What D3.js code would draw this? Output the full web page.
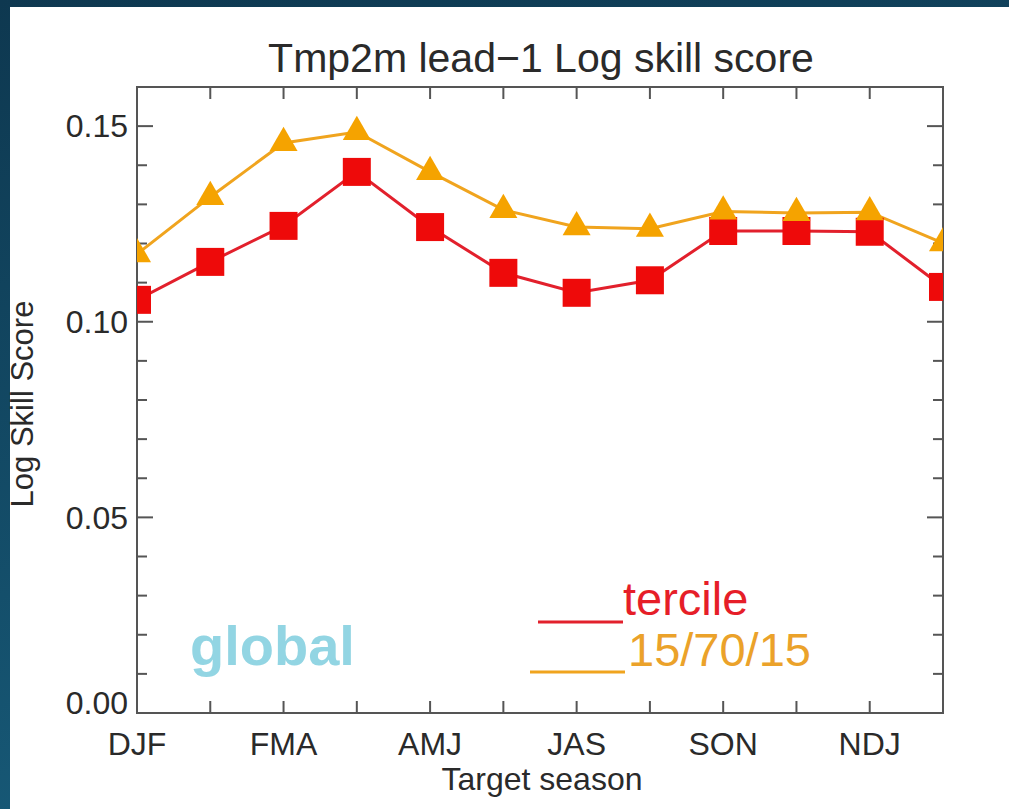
<!DOCTYPE html>
<html>
<head>
<meta charset="utf-8">
<script src="https://cdn.jsdelivr.net/npm/d3@7"></script>
<style>
  body { margin: 0; overflow: hidden; }
  text { font-family: "Liberation Sans", Arial, sans-serif; }
</style>
</head>
<body>
<script>
  // 12 overlapping 3-month target seasons; every other one is labelled
  var seasonIndex = [0, 1, 2, 3, 4, 5, 6, 7, 8, 9, 10, 11];
  var seasonLabels = ["DJF", "FMA", "AMJ", "JAS", "SON", "NDJ"];
  var tercile = [0.1056, 0.1153, 0.1245, 0.1383, 0.1242, 0.1125, 0.1074, 0.1106, 0.1232, 0.1232, 0.1230, 0.1089];
  var pct157015 = [0.1173, 0.1319, 0.1457, 0.1485, 0.1383, 0.1286, 0.1242, 0.1238, 0.1282, 0.1278, 0.1280, 0.1201];
  var yTicks = [0.00, 0.05, 0.10, 0.15];

  (function () {
    "use strict";
    var W = 1009, H = 809;
    var pl = 137, pr = 943, pt = 87, pb = 713;
    var red = "#ee0a0a", redLine = "#e2202c", orange = "#f5a300", orangeLine = "#f0a41e";
    var axisCol = "#555", textCol = "#2a2a2a";

    var svg = d3.select("body").append("svg")
        .attr("width", W)
        .attr("height", H);

    var defs = svg.append("defs");
    var grad = defs.append("linearGradient")
        .attr("id", "bg")
        .attr("x1", "0").attr("y1", "0").attr("x2", "0.3").attr("y2", "1");
    grad.append("stop").attr("offset", "0").attr("stop-color", "#0e3850");
    grad.append("stop").attr("offset", "1").attr("stop-color", "#175a78");
    defs.append("clipPath").attr("id", "plot")
      .append("rect")
        .attr("x", pl).attr("y", pt)
        .attr("width", pr - pl).attr("height", pb - pt);

    svg.append("rect").attr("width", W).attr("height", H).attr("fill", "url(#bg)");
    svg.append("rect").attr("x", 10).attr("y", 7)
        .attr("width", W - 10).attr("height", H - 7).attr("fill", "#fff");

    var x = d3.scaleLinear().domain([0, seasonIndex.length - 1]).range([pl, pr]);
    var y = d3.scaleLinear().domain([0, 0.16]).range([pb, pt]);
    var minor = d3.range(0, 17).map(d => d / 100);

    // frame
    svg.append("rect")
        .attr("x", pl).attr("y", pt)
        .attr("width", pr - pl).attr("height", pb - pt)
        .attr("fill", "none").attr("stroke", axisCol).attr("stroke-width", 2);

    // y ticks on both sides, pointing in
    var yt = svg.append("g").attr("stroke", axisCol).attr("stroke-width", 2);
    minor.forEach(function (v, k) {
      var len = k % 5 === 0 ? 16 : 10;
      yt.append("line").attr("x1", pl).attr("x2", pl + len).attr("y1", y(v)).attr("y2", y(v));
      yt.append("line").attr("x1", pr).attr("x2", pr - len).attr("y1", y(v)).attr("y2", y(v));
    });

    // x ticks top and bottom, pointing in
    var xt = svg.append("g").attr("stroke", axisCol).attr("stroke-width", 2);
    seasonIndex.forEach(function (i) {
      xt.append("line").attr("x1", x(i)).attr("x2", x(i)).attr("y1", pb).attr("y2", pb - 12);
      xt.append("line").attr("x1", x(i)).attr("x2", x(i)).attr("y1", pt).attr("y2", pt + 12);
    });

    svg.append("g").selectAll("text")
      .data(yTicks)
      .enter().append("text")
        .attr("x", pl - 9)
        .attr("y", d => y(d) + (d === 0 ? -10 : 0))
        .attr("dy", "0.35em")
        .attr("text-anchor", "end")
        .attr("font-size", 32)
        .attr("fill", textCol)
        .text(d => d.toFixed(2));

    svg.append("g").selectAll("text")
      .data(seasonLabels)
      .enter().append("text")
        .attr("x", (d, k) => x(k * 2))
        .attr("y", 755)
        .attr("text-anchor", "middle")
        .attr("font-size", 32)
        .attr("fill", textCol)
        .text(d => d);

    svg.append("text")
        .attr("x", 541).attr("y", 72)
        .attr("text-anchor", "middle")
        .attr("font-size", 41)
        .attr("fill", textCol)
        .text("Tmp2m lead\u22121 Log skill score");

    svg.append("text")
        .attr("x", 542).attr("y", 790)
        .attr("text-anchor", "middle")
        .attr("font-size", 32)
        .attr("fill", textCol)
        .text("Target season");

    svg.append("text")
        .attr("transform", "translate(33,404) rotate(-90)")
        .attr("text-anchor", "middle")
        .attr("font-size", 31)
        .attr("fill", textCol)
        .text("Log Skill Score");

    // series
    var plot = svg.append("g").attr("clip-path", "url(#plot)");
    var line = d3.line().x((d, i) => x(i)).y(d => y(d));

    plot.append("path").datum(pct157015)
        .attr("d", line).attr("fill", "none")
        .attr("stroke", orangeLine).attr("stroke-width", 3);
    plot.append("path").datum(tercile)
        .attr("d", line).attr("fill", "none")
        .attr("stroke", redLine).attr("stroke-width", 3);

    plot.selectAll(".sq").data(tercile).enter().append("path")
        .attr("class", "sq")
        .attr("transform", (d, i) => "translate(" + x(i) + "," + y(d) + ")")
        .attr("d", d3.symbol().type(d3.symbolSquare).size(784))
        .attr("fill", red);
    plot.selectAll(".tri").data(pct157015).enter().append("path")
        .attr("class", "tri")
        .attr("transform", (d, i) => "translate(" + x(i) + "," + y(d) + ")")
        .attr("d", d3.symbol().type(d3.symbolTriangle).size(340))
        .attr("fill", orange);

    // legend
    svg.append("line").attr("x1", 538).attr("x2", 623).attr("y1", 622).attr("y2", 622)
        .attr("stroke", redLine).attr("stroke-width", 3);
    svg.append("text").attr("x", 623).attr("y", 615)
        .attr("font-size", 47).attr("fill", "#e61e28").text("tercile");
    svg.append("line").attr("x1", 530).attr("x2", 625).attr("y1", 672).attr("y2", 672)
        .attr("stroke", orangeLine).attr("stroke-width", 3);
    svg.append("text").attr("x", 628).attr("y", 666)
        .attr("font-size", 47).attr("fill", "#eba22a").text("15/70/15");

    svg.append("text")
        .attr("x", 190).attr("y", 665)
        .attr("font-family", "'Open Sans', 'Noto Sans', sans-serif")
        .attr("font-weight", 600)
        .attr("font-size", 56)
        .attr("fill", "#92d5e3")
        .text("global");
  })();
</script>
</body>
</html>
